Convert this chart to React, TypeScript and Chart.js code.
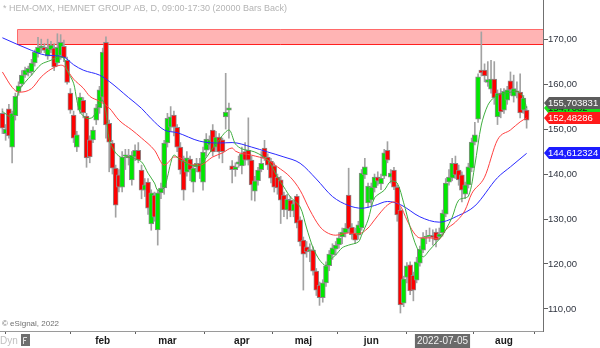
import React, { useEffect, useRef } from "react";
import { Chart, registerables } from "chart.js";
Chart.register(...registerables);

// ---- Candles (one per trading day, mid-Dec 2021 .. Aug 2022) ----
const openP = [153.5,149,154.5,146,153,158.3,160,162,162.5,162.7,164.7,166.9,168,168.2,166.2,167.6,168,164.7,166.4,168.4,165.3,158,153.1,146,154.2,156.4,152.9,147.6,147.6,152,154.7,157.1,169.3,151.3,146.9,141.3,139.8,137.1,144,144,138.7,143.8,145.3,140.9,136.4,138.2,128.9,135.3,127.6,135.8,136.9,146.9,150.4,153.1,150.4,146,143.1,140.4,143.3,138.2,141.6,142.4,138.2,145.3,146.5,149.8,146,148.2,147.6,152.7,154.2,141.8,141,142.2,141.8,145,145.3,143.1,136.2,138.5,141,145.8,143.8,142.9,141.8,139.3,138.7,135.3,132,134.2,131.8,135.1,129.8,125.3,123.8,122.8,123.1,118.4,115.3,112.5,115.8,119.6,122,123.3,124.3,126,126.9,135.3,128.2,126.9,126.4,128,139.8,133.6,134.2,136.9,139.3,137.8,139.5,145.3,139.3,140.9,137.1,132,111.3,117,119.8,117.5,116.4,120.2,123.1,125.9,126.2,126.4,127.1,126,126.9,131.1,138.2,139.1,142.4,140.9,139.8,135.5,137.6,141.3,147.1,152.2,163.1,163.1,160.4,158.9,161.1,152.7,158,154.2,156.4,160.7,157.3,158.5,158.2,154.2,154.2];
const highP = [154.5,151,155.5,154,158,160.5,163,163.8,164,165.5,167.6,170.4,170,169,170,169.5,169,171.2,171,169.8,166,159,154,149.5,158,157,153.5,148.5,150.5,155.5,159.5,168,170.5,152,147.5,142,141,145,145.5,145.5,145,146.5,147,142,139,139,136.5,136,136.5,138,147.5,153.5,155,154,151,147,144,145,144,142,143.5,143.5,146,149,148.5,151,149.5,149,148,162.4,155.8,143,142.5,144,146,147,152.5,144,139.5,141.5,145,147.5,144.5,143.5,142.5,140,139.5,136,135.5,135,134,135.5,130.5,126,125,124.5,123.8,119,116,116.5,120.5,123,124.5,125,127,128,129,141.3,129,128,129.5,141,143.5,138,138,140,140.5,140,145.5,147.2,141,141.5,137.5,132.5,117.3,120.3,120.5,118.2,121.5,124,127,127.5,128,127.6,127.8,128,132,139,141,143.5,144,142,140.5,138.2,142.4,148,151.5,162.3,171.6,164.5,165,165.3,165,158.7,159,159,159.5,162.7,162,160.5,162.3,157.5,155];
const lowP = [149,147.5,148,142.5,152,157.5,159.5,161.5,161.8,162,164,166,167,167,165.5,167,163,164,165.5,165,160,153.5,147,145,153.5,152.5,141.5,142.5,147,151,153.5,156,148,140.5,140,130.4,136,136,141,142,137.5,143,142.5,134.5,135,131,127.5,129.5,124.2,134.5,135.5,146,149.5,148.5,145,140,134.2,139.5,138.5,136,140.5,139,136.4,144,145.5,144,145,143.5,142.5,150,148,138,139.5,141.5,140,142,142,134.2,134,137.5,140.5,143,141,138,136,135.5,129,130.5,130,130.5,130.5,128,124,114.2,121.5,120.5,117.5,113,110.8,111.5,115,118.5,121,122,123.5,124.5,126,127,125.5,124.5,125.5,127.5,139,132.5,133,136,137.5,136.5,139,142.5,138,136.5,129.5,109.1,110.5,115.8,113.2,111.8,115.8,119.5,122.5,124.5,125,124.2,123.8,125.5,126.2,130.5,137.5,138.5,139,137.5,133.8,134.5,136.9,140.5,146.5,151.5,161.8,160.5,159.5,158,155.5,151,152.5,153.5,155.5,157.5,156,156.9,152.5,153.5,150.2];
const closeP = [150.2,150,148.5,153.5,157.3,159.6,162,163.1,163.5,164.7,167.1,168.2,168.5,167.5,168,168.7,163.8,168.2,169.3,165.8,160.4,154.2,148,148.7,157.1,153.6,143.6,143.8,149.8,154.7,158.7,167.1,150.9,147.1,141.3,133.1,137.1,143.8,144.3,143.6,144.2,145.3,143.1,136.4,137.6,132.4,135.8,130.4,135.8,136.9,146.9,152.4,152.7,150.4,146,140.9,136.4,143.6,140.9,141.3,142.4,140.4,144.9,147.8,147.6,144.9,148.2,144.9,145,153.8,154.7,141,141.6,142.7,144.5,143.1,143.1,137.6,138.5,140.9,142.4,143.6,142,139.1,137.1,136.9,134.2,132,134.4,131.8,133.4,129.1,124.9,122.2,122.7,123.2,118.4,114.2,112.5,115.8,119.6,122.2,123.6,124.2,125.8,127.1,128,127.8,126.5,125.3,128.7,140.2,141.6,137.3,137.1,139.3,138.4,139.1,144.7,143.1,140.2,137.1,130.9,110.9,116.7,119.6,114,114.2,120.5,123.3,125.8,126.2,126.4,125.9,125.3,126.7,131.3,138,139.3,142.4,139.8,138.7,136.4,137.6,141.6,147.1,148.7,161.6,162.5,161.8,161,161.1,156.9,158,153.8,158.4,158.7,158.7,159,158.2,153.6,156.9,152];

// ---- Moving averages (bar index -> value) ----
const greenMaIdx = [0,3,5,7,9,12,15,17,19,20,22,23,24,26,28,30,31,32,33,35,37,38,40,43,45,47,48,50,51,52,53,55,58,61,66,70,72,74,78,82,85,87,89,92,94,96,98,100,101,103,105,107,110,111,113,115,118,120,122,124,126,128,130,132,134,136,137,139,141,144,146,148,150,152,154,157,159,161,162];
const greenMaVal = [153.9,152.7,158.4,160.4,162,164.4,165.3,166,165.8,163.1,160.2,156.4,153.8,152.4,152.7,155.8,156.4,153.8,147.6,144.7,143.6,143.8,143.6,142.7,140.2,138,136.4,136.9,139.3,142.4,144.2,143.1,142,142,146.7,149.8,146.7,145.6,144.9,143.1,139.3,137.1,134.9,132.7,128,123.6,120.9,119.6,120.7,122,123.6,124.2,124.9,126.4,129.8,134.7,136.4,138.4,138,133.6,128.2,123.8,121.6,123.1,124.7,126.4,127.6,130.4,134.2,135.1,142,150.9,155.3,157.1,157.8,158.2,158.4,157.1,154.7];
const redMaIdx = [0,3,5,9,12,15,18,19,22,25,27,30,33,36,40,43,47,50,51,53,55,58,61,65,68,71,72,77,82,85,89,92,95,98,100,103,107,110,113,115,117,119,121,123,125,127,129,132,135,137,140,143,145,149,153,157,160,162];
const redMaVal = [162.7,159.3,158.2,159,161.6,163.3,164.2,164,161.1,159.1,157.3,156.2,154.7,152,149.8,148,145.3,142,142.4,143.8,143.6,142.2,142,143.8,144.7,145.8,145.1,144.2,143.1,141.6,139.3,136.4,132,128.4,127.1,126.4,126.9,126.7,128,129.8,131.6,133.1,133.8,132.9,129.8,127.1,125.8,125.8,125.6,127.6,129.3,132,135.6,139.3,147.6,149.8,151.6,152.5];
const blueMaIdx = [0,9,13,19,22,25,30,33,39,43,46,50,54,61,67,71,77,82,87,92,97,102,107,111,115,119,123,129,135,141,146,153,157,162];
const blueMaVal = [170.3,167.5,166.5,166,164.3,163.1,162,160.6,157,154.6,152.3,149.8,149.2,147.3,146.9,147,146,144.9,143.8,142.4,138.9,135,133,132.4,133,133.9,133.2,130.5,129.3,130.8,132.9,139.2,141.6,144.6];

// ---- Axes ----
const yTickValues = [110, 120, 130, 140, 150, 160, 170];
const xTickIdx = [11, 31, 51, 74, 93, 114, 136, 155];
const xTickLabels = ["", "feb", "mar", "apr", "maj", "jun", "2022-07-05", "aug"];
const highlightedTick = 136;
const yMin = 105.1;
const yMax = 178.7;
const xMin = -0.742;
const xMax = 167.06;

// ---- Resistance zone ----
const zoneStartIdx = 4.5;
const zoneLow = 168.9;
const zoneHigh = 172.2;

// ---- Right-hand value tags ----
const tagTexts = ["154,7082", "155,703831", "152,48286", "144,612324"];
const tagValues = [154.7082, 155.703831, 152.48286, 144.612324];
const tagColors = ["#16e016", "#5c5c5c", "#ff1a1a", "#1c1cff"];
const tagTextColors = ["#1a1a1a", "#ffffff", "#ffffff", "#ffffff"];

const titleText = "* HEM-OMX, HEMNET GROUP AB, D, 09:00-17:30 (20000 Bars Back)";
const copyrightText = "© eSignal, 2022";
const dynText = "Dyn";

const FONT = "'Liberation Sans', Arial, sans-serif";

const fmt = (v: number) => v.toFixed(2).replace(".", ",");

const bandPlugin = {
  id: "band",
  beforeDatasetsDraw(chart: any) {
    const { ctx, chartArea, scales } = chart;
    const x0 = Math.round(scales.x.getPixelForValue(zoneStartIdx)) + 0.5;
    const x1 = chartArea.right;
    const yT = Math.round(scales.y.getPixelForValue(zoneHigh)) + 0.5;
    const yB = Math.round(scales.y.getPixelForValue(zoneLow)) + 0.5;
    ctx.save();
    ctx.fillStyle = "#ffb4b4";
    ctx.fillRect(x0, yT, x1 - x0, yB - yT);
    ctx.strokeStyle = "#ff6a6a";
    ctx.lineWidth = 1;
    ctx.beginPath();
    ctx.moveTo(x1, yT); ctx.lineTo(x0, yT); ctx.lineTo(x0, yB);
    ctx.stroke();
    ctx.strokeStyle = "#ff2020";
    ctx.beginPath();
    ctx.moveTo(x0, yB); ctx.lineTo(x1, yB);
    ctx.stroke();
    ctx.restore();
  },
};

const overlayPlugin = {
  id: "overlay",
  afterDraw(chart: any) {
    const { ctx, chartArea, scales } = chart;
    ctx.save();
    // value tags
    const left = chartArea.right + 1;
    for (let k = 0; k < tagValues.length; k++) {
      const yc = Math.round(scales.y.getPixelForValue(tagValues[k]));
      ctx.fillStyle = tagColors[k];
      ctx.beginPath();
      ctx.moveTo(left, yc);
      ctx.lineTo(left + 5, yc - 6);
      ctx.lineTo(600, yc - 6);
      ctx.lineTo(600, yc + 6);
      ctx.lineTo(left + 5, yc + 6);
      ctx.closePath();
      ctx.fill();
      ctx.fillStyle = tagTextColors[k];
      ctx.font = `9.5px ${FONT}`;
      ctx.textBaseline = "middle";
      ctx.textAlign = "left";
      ctx.fillText(tagTexts[k], left + 4, yc + 0.5);
    }
    // title
    ctx.fillStyle = "#b4b4b4";
    ctx.font = `9px ${FONT}`;
    ctx.textBaseline = "middle";
    ctx.fillText(titleText, 3, 8.5);
    // copyright
    ctx.fillStyle = "#707070";
    ctx.font = `8px ${FONT}`;
    ctx.fillText(copyrightText, 2, 324);
    // Dyn
    ctx.fillStyle = "#c0c0c0";
    ctx.font = `10px ${FONT}`;
    ctx.fillText(dynText, 0, 341);
    ctx.fillStyle = "#6e6e6e";
    ctx.fillRect(21, 334, 9, 12);
    ctx.strokeStyle = "#e0e0e0";
    ctx.lineWidth = 1;
    ctx.beginPath();
    ctx.moveTo(23.5, 344); ctx.lineTo(23.5, 337.5); ctx.lineTo(27, 337.5);
    ctx.moveTo(23.5, 340.5); ctx.lineTo(26, 340.5);
    ctx.stroke();
    ctx.restore();
  },
};

export default function App() {
  const ref = useRef<HTMLCanvasElement>(null);
  useEffect(() => {
    document.body.style.margin = "0";
    const canvas = ref.current!;
    const idx = openP.map((_, i) => i);
    const bodyColors = idx.map((i) => (closeP[i] >= openP[i] ? "#00e800" : "#ff0000"));
    const chart = new Chart(canvas, {
      type: "bar",
      data: {
        datasets: [
          {
            type: "line",
            label: "ma-green",
            data: greenMaIdx.map((x, k) => ({ x, y: greenMaVal[k] })),
            borderColor: "#3fae3f",
            borderWidth: 1,
            pointRadius: 0,
            tension: 0.3,
            order: 0,
          },
          {
            type: "line",
            label: "ma-red",
            data: redMaIdx.map((x, k) => ({ x, y: redMaVal[k] })),
            borderColor: "#ff4040",
            borderWidth: 1,
            pointRadius: 0,
            cubicInterpolationMode: "monotone",
            order: 0,
          },
          {
            type: "line",
            label: "ma-blue",
            data: blueMaIdx.map((x, k) => ({ x, y: blueMaVal[k] })),
            borderColor: "#2a2aff",
            borderWidth: 1,
            pointRadius: 0,
            cubicInterpolationMode: "monotone",
            order: 0,
          },
          {
            type: "bar",
            label: "body",
            data: idx.map((i) => ({ x: i, y: [openP[i], closeP[i]] })),
            backgroundColor: bodyColors,
            borderColor: "#8a8a8a",
            borderWidth: 1,
            borderSkipped: false,
            barThickness: 5,
            grouped: false,
            order: 1,
          },
          {
            type: "bar",
            label: "wick",
            data: idx.map((i) => ({ x: i, y: [lowP[i], highP[i]] })),
            backgroundColor: "#a2a2a2",
            barThickness: 1,
            grouped: false,
            order: 2,
          },
        ] as any,
      },
      options: {
        responsive: false,
        animation: false,
        layout: { padding: 0 },
        plugins: { legend: { display: false }, tooltip: { enabled: false } },
        scales: {
          x: {
            type: "linear",
            min: xMin,
            max: xMax,
            offset: false,
            grid: { drawOnChartArea: false, drawTicks: true, tickLength: 3, tickColor: "#606060" },
            border: { display: true, color: "#9a9a9a" },
            ticks: {
              autoSkip: false,
              maxRotation: 0,
              padding: 1,
              callback: (v: any) => {
                const k = xTickIdx.indexOf(Number(v));
                return k >= 0 ? xTickLabels[k] : "";
              },
              font: (c: any) =>
                c.tick && c.tick.value === highlightedTick
                  ? { family: FONT, size: 10 }
                  : { family: FONT, size: 10, weight: "bold" },
              color: (c: any) => (c.tick && c.tick.value === highlightedTick ? "#f0f0f0" : "#1a1a1a"),
              showLabelBackdrop: (c: any) => !!(c.tick && c.tick.value === highlightedTick),
              backdropColor: "#6a6a6a",
              backdropPadding: { top: 1, bottom: 2, left: 2, right: 2 },
            } as any,
            afterBuildTicks: (s: any) => {
              s.ticks = xTickIdx.map((v) => ({ value: v }));
            },
            afterFit: (s: any) => {
              s.height = 17;
              s.paddingLeft = 0;
              s.paddingRight = 0;
            },
          } as any,
          y: {
            type: "linear",
            position: "right",
            min: yMin,
            max: yMax,
            grid: { drawOnChartArea: false, drawTicks: true, tickLength: 5, tickColor: "#606060" },
            border: { display: true, color: "#707070" },
            ticks: {
              padding: 0,
              color: "#303540",
              font: { family: FONT, size: 9.5 },
              callback: (v: any) => fmt(Number(v)),
            },
            afterBuildTicks: (s: any) => {
              s.ticks = yTickValues.map((v) => ({ value: v }));
            },
            afterFit: (s: any) => {
              s.width = 57;
              s.paddingTop = 0;
              s.paddingBottom = 0;
            },
          } as any,
        },
      },
      plugins: [bandPlugin, overlayPlugin],
    });
    return () => chart.destroy();
  }, []);
  return <canvas ref={ref} width={600} height={348} style={{ display: "block" }} />;
}
